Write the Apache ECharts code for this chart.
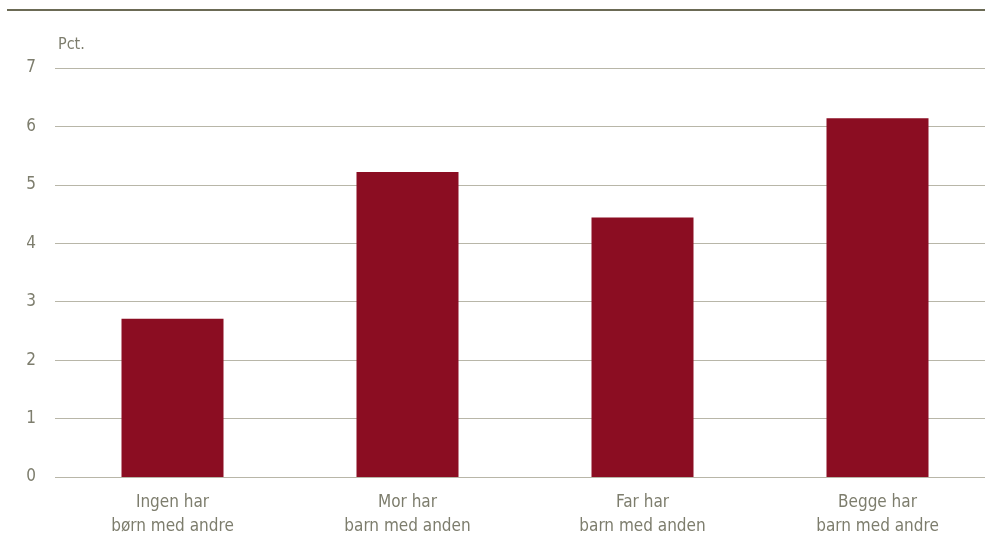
<!DOCTYPE html>
<html><head><meta charset="utf-8">
<script src="https://cdn.jsdelivr.net/npm/echarts@6/dist/echarts.min.js"></script>
<style>html,body{margin:0;padding:0;background:#fff;overflow:hidden;width:985px;height:542px}#c{width:995px;height:542px}</style>
</head><body><div id="c"></div>
<script>
const categories = ['Ingen har\nbørn med andre', 'Mor har\nbarn med anden', 'Far har\nbarn med anden', 'Begge har\nbarn med andre'];
const values = [2.71, 5.22, 4.44, 6.14];
const yTicks = [0, 1, 2, 3, 4, 5, 6, 7];
const unitLabel = 'Pct.';

const font = '"DejaVu Sans Condensed", "Liberation Sans Narrow", "Liberation Sans", sans-serif';
const txt = '#7d7d6d';
const chart = echarts.init(document.getElementById('c'));
chart.setOption({
  animation: false,
  grid: { left: 55, right: 0, top: 68, bottom: 65, containLabel: false },
  graphic: [
    { type: 'rect', shape: { x: 7, y: 9, width: 978, height: 2 }, style: { fill: '#6b6a55' } },
    { type: 'text', left: 58, top: 37, style: { text: unitLabel, font: 'normal normal condensed 16px ' + font, fill: txt } }
  ],
  xAxis: {
    type: 'category', data: categories,
    axisLine: { show: false }, axisTick: { show: false },
    axisLabel: { color: txt, fontFamily: font, fontWeight: 'normal condensed', fontSize: 17, lineHeight: 24, margin: 14 }
  },
  yAxis: {
    type: 'value', min: yTicks[0], max: yTicks[yTicks.length - 1], interval: 1,
    axisLine: { show: false }, axisTick: { show: false },
    axisLabel: { color: txt, fontFamily: font, fontWeight: 'normal condensed', fontSize: 17, margin: 19, padding: [4, 0, 0, 0] },
    splitLine: { lineStyle: { color: '#b8b6a8', width: 1 } }
  },
  series: [{
    type: 'bar', data: values, barWidth: 102,
    itemStyle: { color: '#8b0d22' }
  }]
});
</script></body></html>
